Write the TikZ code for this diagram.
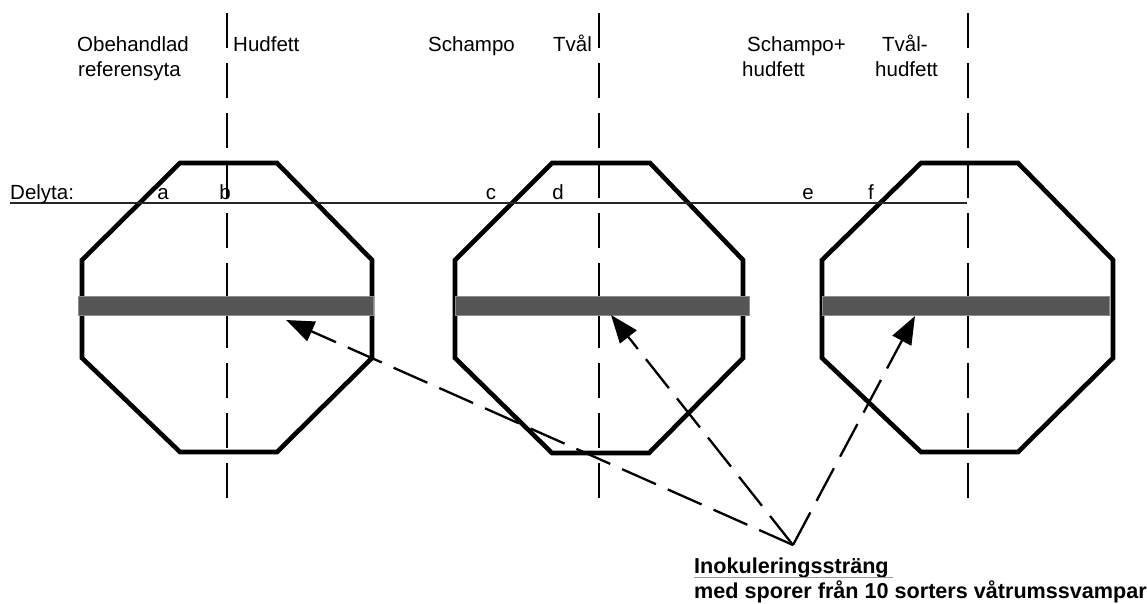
\documentclass[tikz,border=0pt]{standalone}
\usepackage{fontspec}
\setmainfont{Liberation Sans}
\usetikzlibrary{arrows.meta}
\definecolor{stripgray}{HTML}{555555}
\definecolor{stripedge}{HTML}{8C8C8C}
\begin{document}
\begin{tikzpicture}[x=1pt,y=-1pt,
  octo/.style={draw=black,line width=4.6pt,line join=miter},
  divider/.style={draw=black,line width=2.6pt,dash pattern=on 35pt off 15pt},
  strip/.style={fill=stripgray,draw=stripedge,line width=1pt,minimum height=19pt,inner sep=0pt},
  pointer/.style={draw=black,line width=2.3pt,dash pattern=on 37pt off 13pt,
    -{Triangle[length=28pt,width=21pt]}},
  rowline/.style={draw=black!85,line width=1.3pt},
  lbl/.style={inner sep=0pt,anchor=base west,font=\fontsize{20.5}{24}\selectfont},
  sub/.style={inner sep=0pt,anchor=base,font=\fontsize{20.5}{24}\selectfont},
  note/.style={inner sep=0pt,anchor=base west,font=\fontsize{21.6}{26}\selectfont\bfseries}]
\useasboundingbox (0,0) rectangle (1147,604);

% sample plates (octagons)
\draw[octo] (180,163) -- (277,163) -- (372,260) -- (372,358) -- (277,452)
  -- (180,452) -- (82,358) -- (82,260) -- cycle;
\draw[octo] (552,163) -- (650,163) -- (743,260) -- (743,358) -- (649,453)
  -- (552,453) -- (455,358) -- (455,260) -- cycle;
\draw[octo] (921,163) -- (1018,163) -- (1113,260) -- (1113,358) -- (1018,452)
  -- (921,452) -- (822,358) -- (822,260) -- cycle;

% dividing lines between the part surfaces
\coordinate (v1t) at (227,13);  \coordinate (v1b) at (227,498);
\coordinate (v2t) at (599,13);  \coordinate (v2b) at (599,498);
\coordinate (v3t) at (968,13);  \coordinate (v3b) at (968,498);
\draw[divider] (v1t) -- (v1b);
\draw[divider] (v2t) -- (v2b);
\draw[divider] (v3t) -- (v3b);

% row of part surface letters
\coordinate (rowL) at (10,203);
\coordinate (rowR) at (967,203);
\draw[rowline] (rowL) -- (rowR);
\node[lbl] (delyta) at (10,199) {Delyta:};
\node[sub] (pa) at (163,199) {a};
\node[sub] (pb) at (225,199) {b};
\node[sub] (pc) at (491,199) {c};
\node[sub] (pd) at (558,199) {d};
\node[sub] (pe) at (808,199) {e};
\node[sub] (pf) at (871,199) {f};

% treatment headings
\node[lbl] (h1a) at (77,52) {Obehandlad};
\node[lbl] (h1b) at (78,77) {referensyta};
\node[lbl] (h2) at (233,52) {Hudfett};
\node[lbl] (h3) at (428,52) {Schampo};
\node[lbl] (h4) at (553,52) {Tvål};
\node[lbl] (h5a) at (747,52) {Schampo+};
\node[lbl] (h5b) at (742,77) {hudfett};
\node[lbl] (h6a) at (882,52) {Tvål-};
\node[lbl] (h6b) at (875,77) {hudfett};

% inoculation strips
\node[strip,minimum width=295pt] (bar1) at (225.5,305.5) {};
\node[strip,minimum width=294pt] (bar2) at (602,305.5) {};
\node[strip,minimum width=287pt] (bar3) at (965.5,305.5) {};

% explanation and pointers
\node[note] (inok) at (694,573) {Inokuleringssträng};
\node[note] (spor) at (694,598) {med sporer från 10 sorters våtrumssvampar};
\draw[draw=black!40,line width=1pt] (inok.base west) ++(0,4) -- ++(199,0);

\coordinate (apex) at (793,545);
\coordinate (tip1) at (286,320);
\coordinate (tip2) at (611,315);
\coordinate (tip3) at (915,316);
\draw[pointer] (apex) -- (tip1);
\draw[pointer] (apex) -- (tip2);
\draw[pointer] (apex) -- (tip3);
\end{tikzpicture}
\end{document}
